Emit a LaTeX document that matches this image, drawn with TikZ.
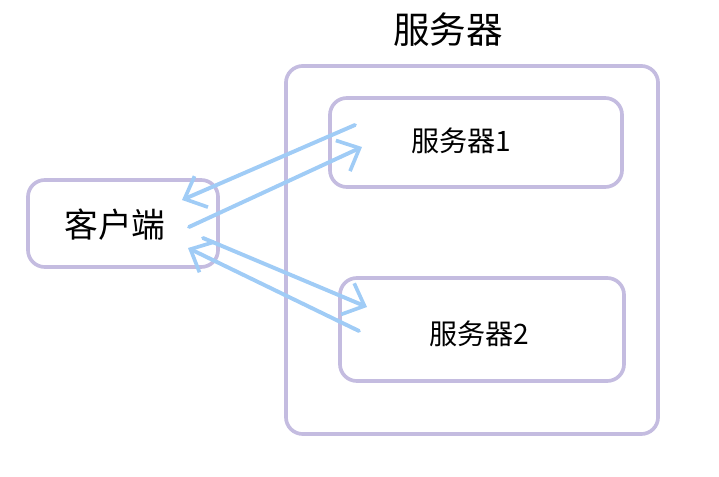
\documentclass[tikz,border=0pt]{standalone}
\usepackage{fontspec}
\setmainfont{Noto Sans CJK SC}
\usetikzlibrary{arrows.meta,positioning}
\definecolor{boxline}{RGB}{196,188,224}
\definecolor{msgline}{RGB}{160,204,246}

\begin{document}
\begin{tikzpicture}[x=0.025cm, y=-0.025cm,
  box/.style={draw=boxline, line width=2.6pt, rounded corners=12pt, inner sep=0pt},
  msg/.style={draw=msgline, line width=2.8pt, line cap=round, -{Straight Barb[length=13pt,width=24pt,line width=2.6pt]}}]
\path[use as bounding box] (0,0) rectangle (719,477);
% boxes
\node[box, minimum width=9.3cm, minimum height=9.2cm] (cluster) at (472,250) {};
\node[box, minimum width=7.3cm, minimum height=2.225cm] (srv1) at (476,142.5) {};
\node[box, minimum width=7.1cm, minimum height=2.575cm] (srv2) at (482,329.5) {};
\node[box, minimum width=4.75cm, minimum height=2.175cm] (client) at (123,223.5) {};
% labels
\node[font=\fontsize{26}{31}\selectfont] (clustertitle) at (448,30) {服务器};
\node[font=\fontsize{24}{29}\selectfont] (clientlabel) at (115,225) {客户端};
\node[font=\fontsize{20}{25}\selectfont] (srv1label) at (461,141) {服务器1};
\node[font=\fontsize{20}{25}\selectfont] (srv2label) at (479,334) {服务器2};
% message ends
\coordinate (r1) at (355,125);
\coordinate (c1) at (182,200);
\coordinate (c2) at (189,227);
\coordinate (s1) at (362,147);
\coordinate (c3) at (203,238);
\coordinate (s2) at (367,307);
\coordinate (r2) at (359,331);
\coordinate (c4) at (188,248);
\draw[msg] (r1) -- (c1);
\draw[msg] (c2) -- (s1);
\draw[msg] (c3) -- (s2);
\draw[msg] (r2) -- (c4);
\end{tikzpicture}
\end{document}
